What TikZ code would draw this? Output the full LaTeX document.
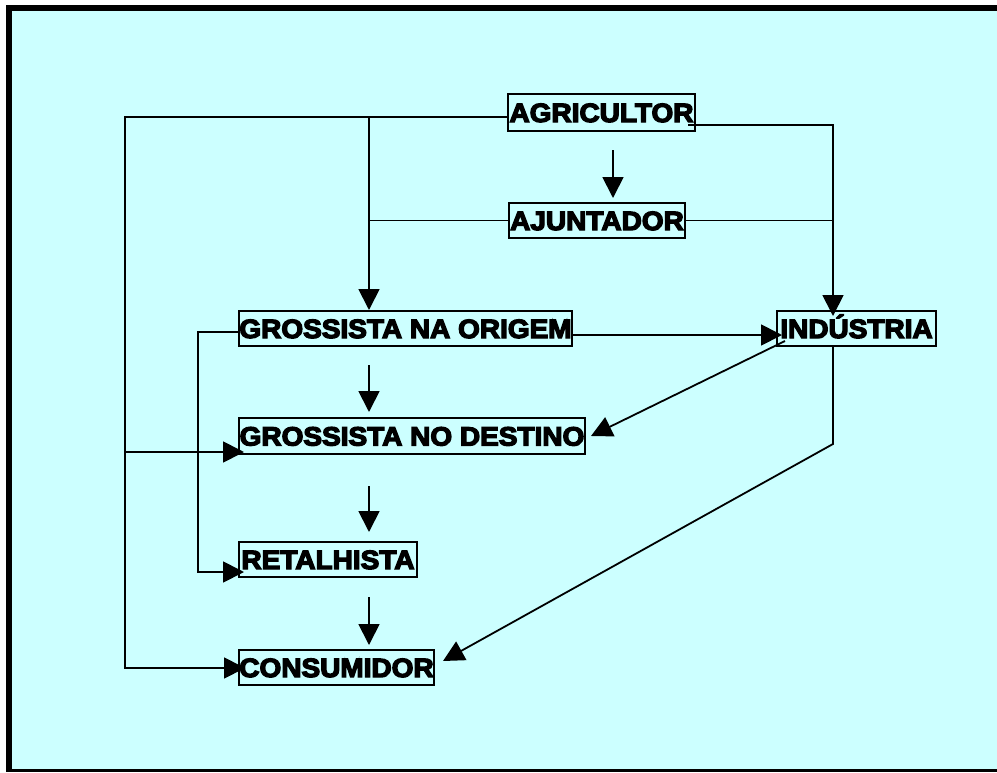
\documentclass[tikz,border=0pt]{standalone}
\usepackage{fontspec}
\usetikzlibrary{arrows.meta,calc}
\newfontfamily\lblfont[FakeStretch=1.06,FakeBold=5]{Liberation Sans Bold}
\definecolor{bgcyan}{HTML}{CCFFFF}
\begin{document}
\begin{tikzpicture}[x=1pt,y=-1pt,
  box/.style={draw=black,line width=2pt,inner sep=0pt,text height=19pt,text depth=0pt,
    font=\lblfont\fontsize{26.4pt}{28pt}\selectfont},
  conn/.style={draw=black,line width=1.8pt},
  arr/.style={conn,-{Triangle[length=21pt,width=21pt]}}]
\useasboundingbox (0,0) rectangle (997,772);
\fill[black] (6,5) rectangle (997,772);
\fill[bgcyan] (12,11) rectangle (997,769);
% nodes
\node[box,minimum width=187pt,minimum height=37pt] (agr) at (601.5,112.5) {AGRICULTOR};
\node[box,minimum width=176pt,minimum height=35pt] (aju) at (597,220.5) {AJUNTADOR};
\node[box,minimum width=333pt,minimum height=35pt] (gor) at (405.5,328.5) {GROSSISTA NA ORIGEM};
\node[box,minimum width=346pt,minimum height=36pt] (gde) at (412,436) {GROSSISTA NO DESTINO};
\node[box,minimum width=178pt,minimum height=35pt] (ret) at (328,559.5) {RETALHISTA};
\node[box,minimum width=195pt,minimum height=35pt] (con) at (336.5,667.5) {CONSUMIDOR};
\node[box,minimum width=159pt,minimum height=35pt] (ind) at (856.5,328.5) {INDÚSTRIA};
% coordinates
\coordinate (a1) at (613,150); \coordinate (a2) at (613,198);
\coordinate (b1) at (369,365); \coordinate (b2) at (369,412);
\coordinate (c1) at (369,486); \coordinate (c2) at (369,532);
\coordinate (d1) at (369,597); \coordinate (d2) at (369,645);
\coordinate (L1) at (125,117); \coordinate (L2) at (125,668);
\coordinate (M1) at (369,117);
\coordinate (R1) at (833,125);
\coordinate (Gy) at (0,335);
\coordinate (K1) at (198,332); \coordinate (K2) at (198,572);
\coordinate (D1) at (125,452);
\coordinate (I1) at (785,341); \coordinate (I2) at (591,436);
\coordinate (J1) at (833,444); \coordinate (J2) at (443,661);
% vertical arrows
\draw[arr] (a1) -- (a2);
\draw[arr] (b1) -- (b2);
\draw[arr] (c1) -- (c2);
\draw[arr] (d1) -- (d2);
% left trunk
\draw[arr] (agr.west |- L1) -- (L1) -- (L2) -- ($(con.west |- L2)+(7,0)$);
\draw[arr] (M1) -- (M1 |- gor.north);
\draw[conn] (aju.west) -- (aju.west -| M1);
\draw[arr] (D1) -- ($(gde.west |- D1)+(6,0)$);
\draw[arr] (gor.west |- K1) -- (K1) -- (K2) -- ($(ret.west |- K2)+(6,0)$);
% right side
\draw[arr] ($(agr.east |- R1)+(-8,0)$) -- (R1) -- ($(R1 |- ind.north)+(0,6)$);
\draw[conn] (aju.east) -- (aju.east -| R1);
\draw[arr] (gor.east |- Gy) -- ($(ind.west |- Gy)+(6,0)$);
\draw[arr] (I1) -- (I2);
\draw[arr] (R1 |- ind.south) -- (J1) -- (J2);
\end{tikzpicture}
\end{document}
